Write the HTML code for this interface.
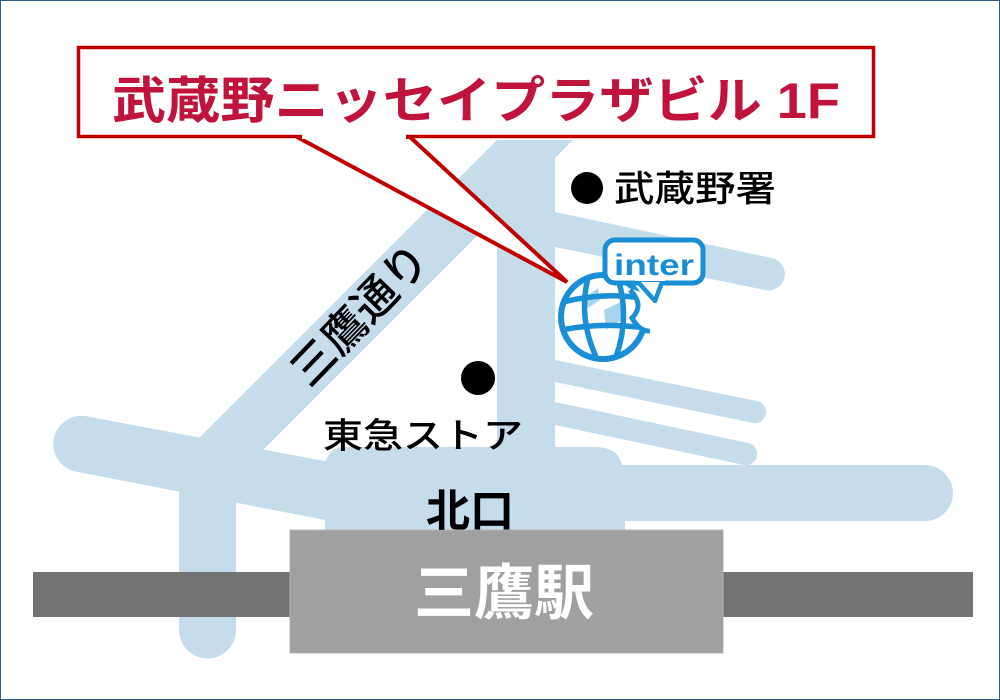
<!DOCTYPE html>
<html><head><meta charset="utf-8"><style>
html,body{margin:0;padding:0;background:#fff}
svg{display:block}
text{font-family:"Liberation Sans","Noto Sans CJK JP",sans-serif}
</style></head><body>
<svg width="1000" height="700" viewBox="0 0 1000 700" xmlns="http://www.w3.org/2000/svg">
<rect x="0.5" y="0.5" width="999" height="699" fill="#fff" stroke="#2e5d8a" stroke-width="1"/>
<g fill="#c5dceb">
  <polygon points="497,140 573,140 253,460 177,460"/>
  <rect x="497" y="140" width="58" height="400"/>
  <path d="M555,212 L772,258 A16,16 0 0 1 765,290 L555,247 Z"/>
  <path d="M555,360 L757,401 A11,11 0 0 1 753,423 L555,382 Z"/>
  <path d="M555,402 L748,443 A11,11 0 0 1 744,465 L555,425 Z"/>
  <path d="M85,416 L330,462 L330,521 L78,472 A28,28 0 0 1 85,416 Z"/>
  <path d="M179,460 L236,460 L236,630 A28,28 0 0 1 179,630 Z"/>
  <path d="M345,447 L595,447 Q618,447 622,465 L925,465 A28,28 0 0 1 925,521 L330,521 L325,465 Q328,447 345,447 Z"/>
  <rect x="325" y="500" width="300" height="40"/>
</g>
<rect x="33" y="572" width="940" height="45" fill="#737373"/>
<rect x="290" y="530" width="433" height="123" fill="#a0a0a0" stroke="#b5b5b5" stroke-width="1"/>
<text x="504" y="614" font-size="60" font-weight="bold" fill="#fff" text-anchor="middle">三鷹駅</text>
<text x="470" y="526" font-size="44" font-weight="bold" fill="#000" text-anchor="middle">北口</text>
<text x="323" y="448" font-size="35" font-weight="500" fill="#000" textLength="200" lengthAdjust="spacingAndGlyphs">東急ストア</text>
<circle cx="587" cy="188" r="16" fill="#000"/>
<text x="614" y="201" font-size="36" font-weight="500" fill="#000" textLength="162" lengthAdjust="spacingAndGlyphs">武蔵野署</text>
<circle cx="478" cy="378" r="17" fill="#000"/>
<text transform="translate(360,315) rotate(-46)" x="0" y="15" font-size="44" font-weight="500" fill="#000" text-anchor="middle">三鷹通り</text>
<!-- callout -->
<polygon points="297,137 410,137 567,282" fill="#fff" stroke="#c00000" stroke-width="4" stroke-linejoin="miter"/>
<rect x="78.5" y="47.5" width="795" height="89" fill="#fff" stroke="#c00000" stroke-width="3.5"/>
<rect x="302" y="131" width="104" height="8" fill="#fff"/>
<text x="112" y="118" font-size="50" font-weight="bold" fill="#c0143c" textLength="728" lengthAdjust="spacingAndGlyphs">武蔵野ニッセイプラザビル 1F</text>
<!-- inter logo -->
<circle cx="603" cy="317" r="42" fill="#fff" stroke="#1a8fd6" stroke-width="6"/>
<path d="M582,300 L598,288 L600,300 L585,310 Z M604,310 L625,300 L624,318 L606,330 Z" fill="#a8d4f0"/>
<g stroke="#1a8fd6" stroke-width="5.5" fill="none">
  <path d="M588,278 Q578,317 596,357"/>
  <path d="M618,279 Q630,317 616,357"/>
  <path d="M563,302 Q603,292 642,298"/>
  <path d="M561,330 Q603,322 645,328"/>
</g>
<path d="M628,288 Q642,305 628,318 Q640,334 652,332 L668,300 Z" fill="#fff"/>
<path d="M630,290 Q645,305 632,318 Q640,332 650,331" fill="none" stroke="#1a8fd6" stroke-width="5"/>
<rect x="605" y="240" width="98" height="43" rx="10" fill="#fff" stroke="#1a8fd6" stroke-width="5"/>
<path d="M638,282 L655,301 L662,282" fill="#fff" stroke="#1a8fd6" stroke-width="4.5" stroke-linejoin="round"/>
<rect x="635" y="276" width="30" height="5" fill="#fff"/>
<text x="654" y="275" font-size="30" font-weight="bold" fill="#1a8fd6" text-anchor="middle" textLength="80" lengthAdjust="spacingAndGlyphs" font-family="Liberation Sans, sans-serif">inter</text>
</svg>
</body></html>
